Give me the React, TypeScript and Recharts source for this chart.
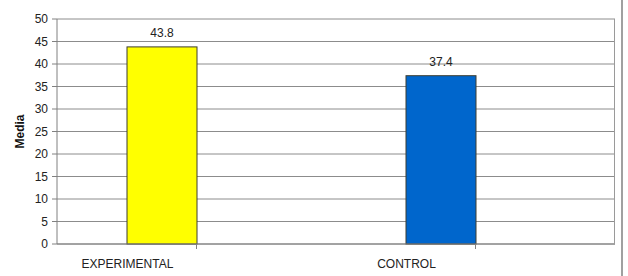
import { BarChart, Bar, XAxis, YAxis, CartesianGrid, LabelList } from 'recharts';

const groups = ['EXPERIMENTAL', 'CONTROL'];
const means = [43.8, 37.4];
const barColors = ['#FFFF00', '#0066CC'];
const yTicks = [0, 5, 10, 15, 20, 25, 30, 35, 40, 45, 50];

const data = groups.map((g, i) => ({ group: g, media: means[i], empty: null, color: barColors[i] }));

const font = '"Liberation Sans", Arial, sans-serif';

// label sits under the left edge of the bar, tick mark at the category centre
const GroupTick = (props: any) => {
  const { x, y, payload } = props;
  return (
    <g>
      <text x={x - 69} y={y + 17} textAnchor="middle" fontSize={12} fontFamily={font} fill="#222">
        {payload.value}
      </text>
    </g>
  );
};

export default function App() {
  return (
    <div style={{ position: 'absolute', left: 0, top: 0, width: 628, height: 276, background: '#fff' }}>
      <BarChart
        width={628}
        height={276}
        data={data}
        margin={{ top: 19, right: 13, bottom: 10, left: 0 }}
        barGap={0}
        barSize={70}
      >
        <CartesianGrid vertical={false} stroke="#8c8c8c" strokeWidth={1} />
        <XAxis
          dataKey="group"
          height={22}
          axisLine={{ stroke: '#808080' }}
          tickLine={{ stroke: '#808080' }}
          tickSize={5}
          tick={<GroupTick />}
          interval={0}
        />
        <YAxis
          width={57}
          domain={[0, 50]}
          ticks={yTicks}
          interval={0}
          axisLine={{ stroke: '#808080' }}
          tickLine={{ stroke: '#808080' }}
          tickSize={5}
          tickMargin={4}
          tick={{ fontSize: 12, fontFamily: font, fill: '#222' }}
          label={(p: any) => {
            const vb = p.viewBox || { y: 19, height: 225 };
            const cy = vb.y + vb.height / 2;
            return (
              <text
                x={24}
                y={cy}
                transform={`rotate(-90 24 ${cy})`}
                textAnchor="middle"
                fontSize={12}
                fontWeight="bold"
                fontFamily={font}
                fill="#111"
              >
                Media
              </text>
            );
          }}
        />
        <Bar
          dataKey="media"
          isAnimationActive={false}
          stroke="#4a4a2a"
          strokeWidth={1}
          shape={(p: any) => (
            <rect x={p.x} y={p.y} width={p.width} height={p.height} fill={p.payload.color} stroke="#3d3d30" strokeWidth={1} />
          )}
        >
          <LabelList dataKey="media" position="top" offset={10} fontSize={12} fontFamily={font} fill="#222" formatter={(v: any) => Number(v).toFixed(1)} />
        </Bar>
        <Bar dataKey="empty" isAnimationActive={false} fill="none" />
      </BarChart>
      <div style={{ position: 'absolute', left: 614, top: 19, width: 1, height: 225, background: '#9a9a9a' }} />
      <div style={{ position: 'absolute', left: 621, top: 0, width: 2, height: 276, background: '#a0a0a0' }} />
    </div>
  );
}
